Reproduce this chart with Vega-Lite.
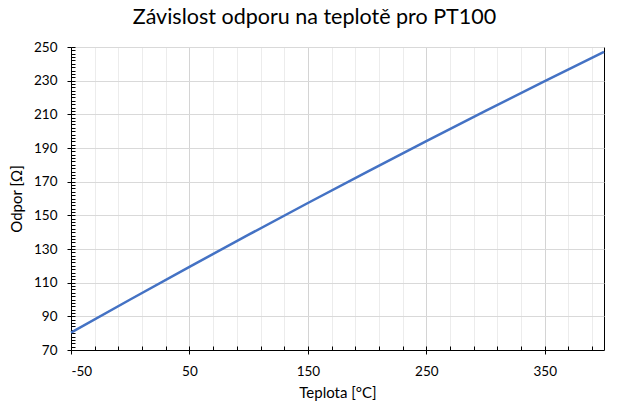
{
  "$schema": "https://vega.github.io/schema/vega-lite/v6.json",
  "width": 533,
  "height": 303,
  "autosize": {"type": "none"},
  "padding": {"left": 71, "top": 47, "right": 25, "bottom": 56},
  "background": "white",
  "title": {"text": "Závislost odporu na teplotě pro PT100", "fontSize": 21.5, "font": "Lato", "fontWeight": "normal", "color": "#000000", "anchor": "middle", "dx": -23, "offset": 12},
  "data": {"values": [
    {"T": -50, "R": 80.31},
    {"T": 0, "R": 100.0},
    {"T": 50, "R": 119.40},
    {"T": 100, "R": 138.51},
    {"T": 150, "R": 157.33},
    {"T": 200, "R": 175.86},
    {"T": 250, "R": 194.10},
    {"T": 300, "R": 212.05},
    {"T": 350, "R": 229.72},
    {"T": 400, "R": 247.09}
  ]},
  "config": {
    "view": {"stroke": "black", "strokeWidth": 1},
    "axis": {"domainColor": "#000000", "tickColor": "#000000", "labelFont": "Lato", "labelFontSize": 13.5, "labelColor": "#000000", "titleFont": "Lato", "titleFontSize": 15, "titleFontWeight": "normal", "titleColor": "#000000"}
  },
  "layer": [
    {
      "mark": {"type": "line", "strokeOpacity": 0},
      "encoding": {
        "x": {"field": "T", "type": "quantitative", "scale": {"domain": [-50, 400], "nice": false, "zero": false},
          "axis": {"orient": "bottom", "values": [-50, -30, -10, 10, 30, 50, 70, 90, 110, 130, 150, 170, 190, 210, 230, 250, 270, 290, 310, 330, 350, 370, 390], "labels": false, "title": null, "domain": false, "tickSize": -4, "grid": true, "gridColor": "#ececec", "gridWidth": 1}},
        "y": {"field": "R", "type": "quantitative", "scale": {"domain": [70, 250], "nice": false, "zero": false},
          "axis": {"orient": "left", "values": [70,72,74,76,78,80,82,84,86,88,90,92,94,96,98,100,102,104,106,108,110,112,114,116,118,120,122,124,126,128,130,132,134,136,138,140,142,144,146,148,150,152,154,156,158,160,162,164,166,168,170,172,174,176,178,180,182,184,186,188,190,192,194,196,198,200,202,204,206,208,210,212,214,216,218,220,222,224,226,228,230,232,234,236,238,240,242,244,246,248,250], "labels": false, "title": null, "domain": false, "tickSize": -4, "grid": false}}
      }
    },
    {
      "mark": {"type": "line", "color": "#4472C4", "strokeWidth": 2.5},
      "encoding": {
        "x": {"field": "T", "type": "quantitative", "scale": {"domain": [-50, 400], "nice": false, "zero": false},
          "axis": {"orient": "bottom", "values": [-50, 50, 150, 250, 350], "labelExpr": "toString(datum.value)", "title": "Teplota [°C]", "titleFontWeight": "normal", "tickSize": 4, "labelPadding": 10, "titlePadding": 8, "grid": true, "gridColor": "#d4d4d4", "gridWidth": 1}},
        "y": {"field": "R", "type": "quantitative", "scale": {"domain": [70, 250], "nice": false, "zero": false},
          "axis": {"orient": "left", "values": [70, 90, 110, 130, 150, 170, 190, 210, 230, 250], "labelExpr": "toString(datum.value)", "title": "Odpor [Ω]", "titleFontWeight": "normal", "tickSize": 4, "labelPadding": 10, "titlePadding": 9, "grid": true, "gridColor": "#d9d9d9", "gridWidth": 1}}
      }
    }
  ],
  "resolve": {"axis": {"x": "independent", "y": "independent"}}
}
